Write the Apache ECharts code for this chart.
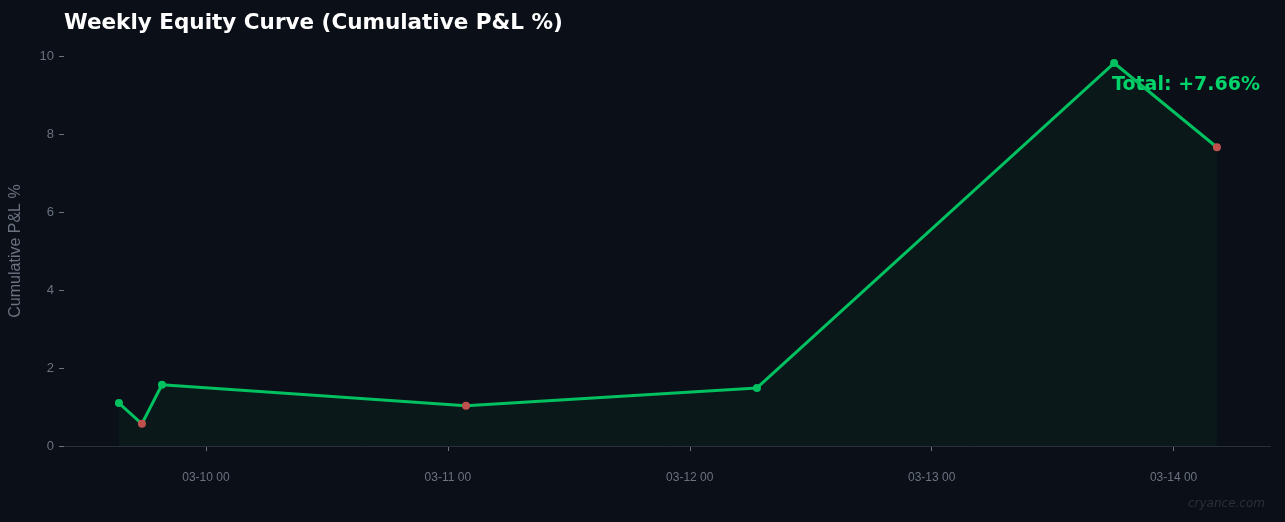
<!DOCTYPE html>
<html><head><meta charset="utf-8">
<script src="https://cdn.jsdelivr.net/npm/echarts@6/dist/echarts.min.js"></script>
<style>html,body{margin:0;background:#0b0f17}#c{width:1285px;height:522px}</style>
</head><body><div id="c"></div>
<script>
const times = ["2025-03-09T15:22:00","2025-03-09T17:39:00","2025-03-09T19:38:00","2025-03-11T01:48:00","2025-03-12T06:40:00","2025-03-13T18:06:00","2025-03-14T04:18:00"];
const values = [1.1, 0.57, 1.57, 1.03, 1.49, 9.82, 7.66];
const totalText = "Total: +7.66%";
const H = 3600e3;
const data = times.map((t,i)=>({value:[new Date(t).getTime(), values[i]],
  itemStyle:{color: (i>0 && values[i]<values[i-1]) ? '#c0504d' : '#00c060'}}));
const pad = n=>String(n).padStart(2,'0');
const chart = echarts.init(document.getElementById('c'));
chart.setOption({
  backgroundColor:'#0b0f17',
  title:{text:'Weekly Equity Curve (Cumulative P&L %)',left:59,top:7,textStyle:{color:'#fff',fontSize:21.5,fontWeight:'bold',fontFamily:'DejaVu Sans'}},
  graphic:[
    {type:'text',right:25,top:76,style:{text:totalText,fill:'#00d46a',font:'bold 19px DejaVu Sans'}},
    {type:'text',right:20,bottom:12,style:{text:'cryance.com',fill:'#2a303a',font:'italic 12px DejaVu Sans'}}
  ],
  grid:{left:64,right:14,top:56,bottom:76},
  xAxis:{type:'time',min:new Date("2025-03-09T09:55:00").getTime(),max:new Date("2025-03-14T09:40:00").getTime(),
    splitNumber:7,offset:16,
    axisLine:{show:false},axisTick:{length:5,lineStyle:{color:'#6b7280'}},splitLine:{show:false},
    axisLabel:{color:'#6b7280',fontSize:12,margin:10,hideOverlap:false,formatter:v=>{const d=new Date(v);return pad(d.getMonth()+1)+'-'+pad(d.getDate())+' '+pad(d.getHours());}}},
  yAxis:{type:'value',min:0,max:10,interval:2,name:'Cumulative P&L %',nameLocation:'middle',nameGap:40,
    nameTextStyle:{color:'#6b7280',fontSize:16},
    axisLine:{show:false},axisTick:{show:true,length:5,lineStyle:{color:'#6b7280'}},splitLine:{show:false},
    axisLabel:{color:'#6b7280',fontSize:13,margin:10}},
  series:[{type:'line',data:data,symbol:'circle',symbolSize:8,
    lineStyle:{color:'#00c060',width:3},
    areaStyle:{color:'rgba(0,192,96,0.07)'},
    markLine:{silent:true,symbol:'none',label:{show:false},lineStyle:{color:'#2a303a',type:'solid',width:1},data:[{yAxis:0}]}}]
});
</script></body></html>
